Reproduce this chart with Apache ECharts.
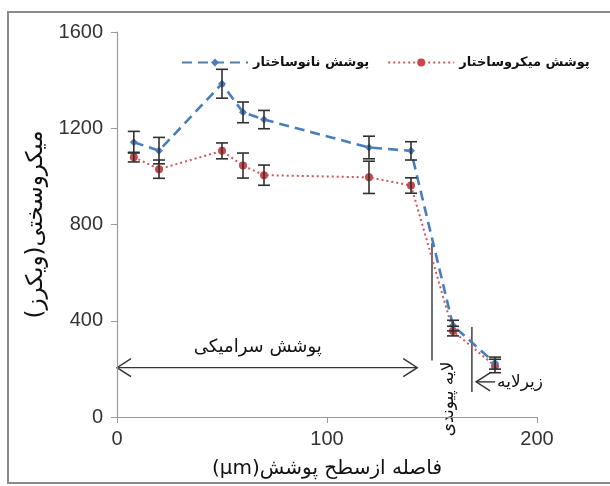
<!DOCTYPE html>
<html>
<head>
<meta charset="utf-8">
<script src="https://cdn.jsdelivr.net/npm/echarts@6/dist/echarts.min.js"></script>
<style>
  html, body { margin: 0; padding: 0; background: #fff; }
  #chart { width: 610px; height: 486px; }
</style>
</head>
<body>
<div id="chart"></div>
<script>
// فاصله از سطح پوشش (µm)
const distance = [8, 20, 50, 60, 70, 120, 140, 160, 180];
// پوشش نانوساختار
const nanoHardness = [1142, 1107, 1385, 1266, 1236, 1120, 1106, 380, 224];
const nanoError = [45, 55, 60, 43, 38, 47, 38, 22, 25];
// پوشش میکروساختار
const microHardness = [1080, 1030, 1106, 1045, 1005, 996, 962, 357, 212];
const microError = [20, 38, 33, 52, 42, 67, 32, 20, 28];

const yTicks = [0, 400, 800, 1200, 1600];
const xTicks = [0, 100, 200];

const nanoName = 'پوشش نانوساختار';
const microName = 'پوشش میکروساختار';

const fontFa = 'DejaVu Sans';
const fontNum = 'Liberation Sans';

const chart = echarts.init(document.getElementById('chart'));

const pairs = (xs, ys) => xs.map((x, i) => [x, ys[i]]);
const bars = (xs, ys, es) => xs.map((x, i) => [x, ys[i] - es[i], ys[i] + es[i]]);

const errorBar = (params, api) => {
  const x = api.value(0);
  const top = api.coord([x, api.value(2)]);
  const bot = api.coord([x, api.value(1)]);
  const w = 6;
  const st = { stroke: '#303030', lineWidth: 1.6 };
  return {
    type: 'group',
    children: [
      { type: 'line', shape: { x1: top[0], y1: top[1], x2: bot[0], y2: bot[1] }, style: st },
      { type: 'line', shape: { x1: top[0] - w, y1: top[1], x2: top[0] + w, y2: top[1] }, style: st },
      { type: 'line', shape: { x1: bot[0] - w, y1: bot[1], x2: bot[0] + w, y2: bot[1] }, style: st }
    ]
  };
};

const option = {
  backgroundColor: '#fff',
  animation: false,
  grid: { left: 117, right: 73, top: 32, bottom: 69 },
  legend: {
    data: [nanoName, microName],
    left: 176,
    top: 51,
    itemWidth: 66,
    itemHeight: 10,
    itemGap: 18,
    textStyle: { fontFamily: fontFa, fontSize: 13, fontWeight: 'bold', color: '#111' }
  },
  xAxis: {
    type: 'value',
    min: xTicks[0],
    max: xTicks[xTicks.length - 1],
    interval: 100,
    name: '(μm)فاصله ازسطح پوشش',
    nameLocation: 'middle',
    nameGap: 42,
    nameTextStyle: { fontFamily: fontFa, fontSize: 20, color: '#111' },
    axisLine: { show: true, lineStyle: { color: '#9a9a9a', width: 1.2 } },
    axisTick: { show: true, length: 6, lineStyle: { color: '#9a9a9a' } },
    axisLabel: { fontFamily: fontNum, fontSize: 20, color: '#333', margin: 12 },
    splitLine: { show: false }
  },
  yAxis: {
    type: 'value',
    min: yTicks[0],
    max: yTicks[yTicks.length - 1],
    interval: 400,
    name: 'میکروسختی(ویکرز)',
    nameLocation: 'middle',
    nameGap: 64,
    nameTextStyle: { fontFamily: fontFa, fontSize: 23, color: '#111' },
    axisLine: { show: true, lineStyle: { color: '#9a9a9a', width: 1.2 } },
    axisTick: { show: true, length: 6, lineStyle: { color: '#9a9a9a' } },
    axisLabel: { fontFamily: fontNum, fontSize: 20, color: '#333', margin: 14, formatter: v => String(v) },
    splitLine: { show: false }
  },
  series: [
    {
      name: nanoName,
      type: 'line',
      data: pairs(distance, nanoHardness),
      symbol: 'diamond',
      symbolSize: 8,
      itemStyle: { color: '#4a7ebb' },
      lineStyle: { color: '#4a7ebb', width: 2.6, type: [10, 6] },
      z: 3
    },
    {
      name: microName,
      type: 'line',
      data: pairs(distance, microHardness),
      symbol: 'circle',
      symbolSize: 8,
      itemStyle: { color: '#c9474a' },
      lineStyle: { color: '#d0575a', width: 2, type: [2, 3] },
      z: 2
    },
    {
      type: 'custom',
      renderItem: errorBar,
      data: bars(distance, nanoHardness, nanoError),
      encode: { x: 0, y: [1, 2] },
      z: 5
    },
    {
      type: 'custom',
      renderItem: errorBar,
      data: bars(distance, microHardness, microError),
      encode: { x: 0, y: [1, 2] },
      z: 5
    }
  ]
};

chart.setOption(option);

// annotations placed in data units
const px = (x, y) => chart.convertToPixel({ gridIndex: 0 }, [x, y]);
const stroke = { stroke: '#333', lineWidth: 1.4, fill: null };
const line = (a, b) => ({ type: 'line', shape: { x1: a[0], y1: a[1], x2: b[0], y2: b[1] }, style: stroke });
const head = (tip, dir) => ({
  type: 'polyline',
  shape: { points: [[tip[0] + dir * 14, tip[1] - 9], tip, [tip[0] + dir * 14, tip[1] + 9]] },
  style: stroke
});

const arrowL = px(0, 205), arrowR = px(143, 205);
const bond1 = px(150, 722), bond2 = px(150, 235);
const sub1 = px(169, 374), sub2 = px(169, 104);
const subTip = px(171, 146), subEnd = px(180, 146);
const ceramicPos = px(67, 288);
const bondPos = px(158, 75);
const subPos = px(181, 144);

chart.setOption({
  graphic: [
    { type: 'rect', shape: { x: 8, y: 12, width: 612, height: 471 }, style: { stroke: '#8a8a8a', lineWidth: 2, fill: null }, silent: true },
    line(arrowL, arrowR), head(arrowL, 1), head(arrowR, -1),
    line(bond1, bond2),
    line(sub1, sub2),
    line(subTip, subEnd), head(subTip, 1),
    {
      type: 'text', x: ceramicPos[0], y: ceramicPos[1],
      style: { text: 'پوشش سرامیکی', fontFamily: fontFa, fontSize: 18, fill: '#111', align: 'center', verticalAlign: 'middle' }
    },
    {
      type: 'text', x: bondPos[0], y: bondPos[1], rotation: Math.PI / 2,
      style: { text: 'لایه پیوندی', fontFamily: fontFa, fontSize: 17, fill: '#111', align: 'center', verticalAlign: 'middle' }
    },
    {
      type: 'text', x: subPos[0], y: subPos[1],
      style: { text: 'زیرلایه', fontFamily: fontFa, fontSize: 17, fill: '#111', align: 'left', verticalAlign: 'middle' }
    }
  ]
});
</script>
</body>
</html>
